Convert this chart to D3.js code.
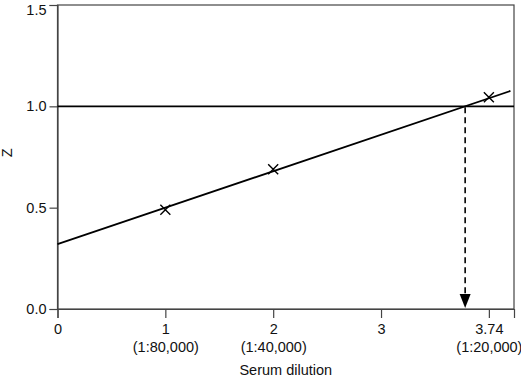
<!DOCTYPE html>
<html>
<head>
<meta charset="utf-8">
<script src="https://cdn.jsdelivr.net/npm/d3@7"></script>
<style>
  body { margin: 0; background: #fff; }
  text { font-family: "Liberation Sans", Arial, sans-serif; fill: #111; }
</style>
</head>
<body>
<div id="chart"></div>
<script>
// data
var tickValues = [0, 1, 2, 3, 4];
var tickNumbers = ["0", "1", "2", "3", "3.74"];
var tickDilutions = ["", "(1:80,000)", "(1:40,000)", "", "(1:20,000)"];
var pointsX = [1, 2, 4];
var pointsZ = [0.49, 0.69, 1.045];
var fitX = [0, 4.2];
var fitZ = [0.32, 1.076];
var crossX = 3.78;
var crossZ = 1.0;
var yTicks = [0.0, 0.5, 1.0, 1.5];

var width = 521,
    height = 380,
    margin = {top: 5, right: 7, bottom: 71, left: 57.5},
    fontSize = 14.5;

var svg = d3.select("#chart")
    .append("svg")
    .attr("width", width)
    .attr("height", height);

var x = d3.scaleLinear()
    .domain([0, 4.233])
    .range([margin.left, width - margin.right]);

var y = d3.scaleLinear()
    .domain([0, 1.5])
    .range([height - margin.bottom, margin.top]);

var axisColor = "#444";

/* ------- FRAME -------*/
svg.append("rect")
    .attr("x", x(0))
    .attr("y", y(1.5))
    .attr("width", x(4.233) - x(0))
    .attr("height", y(0) - y(1.5))
    .attr("fill", "none")
    .attr("stroke", axisColor)
    .attr("stroke-width", 1.2);

/* ------- AXES -------*/
var yAxis = svg.append("g")
    .attr("transform", "translate(" + x(0) + ",0)")
    .call(d3.axisLeft(y).tickValues(yTicks).tickSize(8).tickPadding(3)
        .tickFormat(d3.format(".1f")));

var xAxis = svg.append("g")
    .attr("transform", "translate(0," + y(0) + ")")
    .call(d3.axisBottom(x).tickValues(tickValues).tickSize(9).tickPadding(6)
        .tickFormat(function (d, i) { return tickNumbers[i]; }));

[yAxis, xAxis].forEach(function (g) {
    g.select(".domain").attr("stroke", axisColor).attr("stroke-width", 1.2);
    g.selectAll(".tick line").attr("stroke", axisColor).attr("stroke-width", 1.2);
    g.selectAll(".tick text")
        .attr("font-size", fontSize)
        .attr("font-family", "Liberation Sans, Arial, sans-serif")
        .attr("fill", "#111");
});

// keep the top label inside the page
yAxis.selectAll(".tick text").attr("dy", function (d) { return d === 1.5 ? "0.62em" : "0.32em"; });

xAxis.selectAll(".tick")
    .append("text")
    .attr("y", 43)
    .attr("text-anchor", "middle")
    .attr("font-size", fontSize)
    .attr("fill", "#111")
    .text(function (d, i) { return tickDilutions[i]; });

svg.append("text")
    .attr("x", (x(0) + x(4.233)) / 2)
    .attr("y", 375)
    .attr("text-anchor", "middle")
    .attr("font-size", fontSize)
    .text("Serum dilution");

svg.append("text")
    .attr("transform", "translate(12," + y(0.77) + ") rotate(-90)")
    .attr("text-anchor", "middle")
    .attr("font-size", fontSize)
    .text("Z");

/* ------- LINES -------*/
svg.append("line")
    .attr("x1", x(0))
    .attr("x2", x(4.233))
    .attr("y1", y(1))
    .attr("y2", y(1))
    .attr("stroke", "#000")
    .attr("stroke-width", 1.6);

var line = d3.line()
    .x(function (d) { return x(d[0]); })
    .y(function (d) { return y(d[1]); });

svg.append("path")
    .attr("d", line(d3.zip(fitX, fitZ)))
    .attr("fill", "none")
    .attr("stroke", "#000")
    .attr("stroke-width", 1.8);

/* ------- CROSSES -------*/
var s = 5;
svg.selectAll("path.cross")
    .data(d3.zip(pointsX, pointsZ))
    .enter()
    .append("path")
    .attr("class", "cross")
    .attr("d", function (d) {
        var cx = x(d[0]), cy = y(d[1]);
        return "M" + (cx - s) + "," + (cy - s) + "L" + (cx + s) + "," + (cy + s) +
               "M" + (cx - s) + "," + (cy + s) + "L" + (cx + s) + "," + (cy - s);
    })
    .attr("stroke", "#000")
    .attr("stroke-width", 1.4)
    .attr("fill", "none");

/* ------- DASHED ARROW -------*/
var ax = x(crossX);
svg.append("line")
    .attr("x1", ax)
    .attr("x2", ax)
    .attr("y1", y(crossZ) + 1)
    .attr("y2", y(0) - 12)
    .attr("stroke", "#000")
    .attr("stroke-width", 1.6)
    .attr("stroke-dasharray", "6,4");

svg.append("path")
    .attr("d", "M" + (ax - 5.5) + "," + (y(0) - 15) + "L" + (ax + 5.5) + "," + (y(0) - 15) +
               "L" + ax + "," + (y(0) - 1) + "Z")
    .attr("fill", "#000");
</script>
</body>
</html>
